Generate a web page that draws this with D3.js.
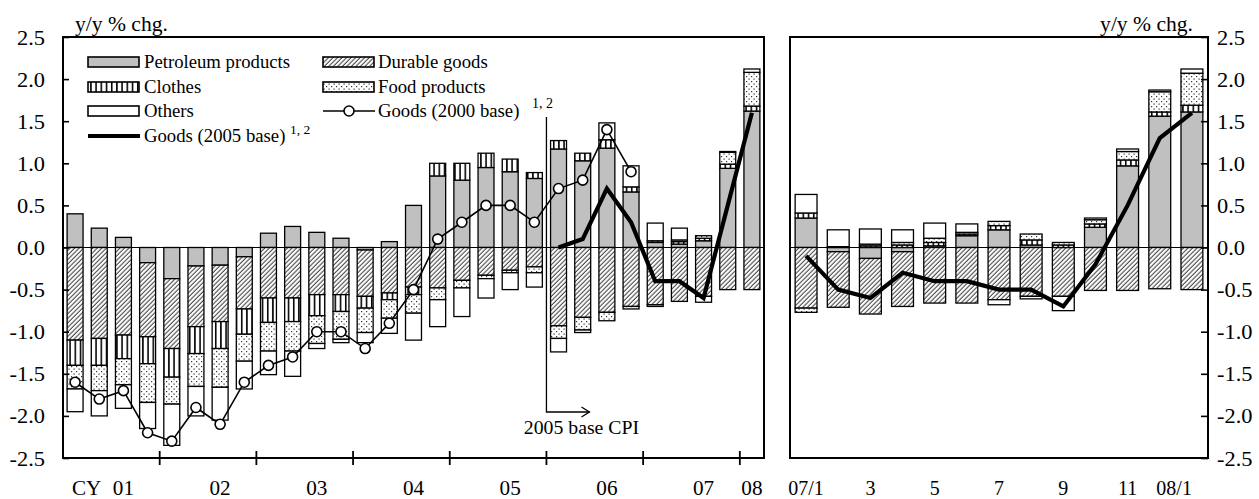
<!DOCTYPE html>
<html><head><meta charset="utf-8">
<script src="https://cdn.jsdelivr.net/npm/d3@7"></script>
<style>body{margin:0;background:#fff}svg text{font-family:"Liberation Serif","Times New Roman",serif;fill:#000}</style>
</head><body><svg id="c" width="1259" height="499"></svg>
<script>
// ---------- DATA: quarterly (left panel) ----------
const quarters = ["01Q1","01Q2","01Q3","01Q4","02Q1","02Q2","02Q3","02Q4","03Q1","03Q2","03Q3","03Q4",
  "04Q1","04Q2","04Q3","04Q4","05Q1","05Q2","05Q3","05Q4","06Q1","06Q2","06Q3","06Q4","07Q1","07Q2","07Q3","07Q4","08Q1"];
const petroQ   = [0.40,0.23,0.12,-0.18,-0.37,-0.22,-0.21,-0.11,0.17,0.25,0.18,0.11,-0.03,0.07,0.50,0.85,0.80,0.95,0.90,0.82,1.17,1.03,1.18,0.66,0.06,0.04,0.08,0.94,1.62];
const durableQ = [-1.10,-1.08,-1.04,-0.88,-0.83,-0.72,-0.67,-0.62,-0.60,-0.60,-0.56,-0.56,-0.55,-0.54,-0.47,-0.48,-0.39,-0.33,-0.27,-0.23,-0.93,-0.83,-0.77,-0.70,-0.68,-0.64,-0.58,-0.50,-0.50];
const clothesQ = [-0.30,-0.32,-0.28,-0.32,-0.34,-0.32,-0.32,-0.30,-0.29,-0.28,-0.25,-0.20,-0.14,-0.08,-0.09,0.15,0.20,0.17,0.15,0.07,0.10,0.09,0.10,0.06,0.02,0.03,0.03,0.05,0.06];
const foodQ    = [-0.28,-0.30,-0.31,-0.46,-0.32,-0.39,-0.46,-0.32,-0.34,-0.35,-0.33,-0.33,-0.29,-0.22,-0.22,-0.14,-0.09,-0.04,-0.03,-0.07,-0.15,-0.15,-0.10,-0.03,-0.02,0.02,0.03,0.14,0.40];
const othersQ  = [-0.27,-0.30,-0.28,-0.31,-0.49,-0.35,-0.39,-0.33,-0.28,-0.30,-0.06,-0.04,-0.12,-0.18,-0.32,-0.32,-0.34,-0.23,-0.20,-0.17,-0.16,-0.03,0.20,0.25,0.21,0.14,-0.07,0.01,0.04];
const goods2000Q = [-1.6,-1.8,-1.7,-2.2,-2.3,-1.9,-2.1,-1.6,-1.4,-1.3,-1.0,-1.0,-1.2,-0.9,-0.5,0.1,0.3,0.5,0.5,0.3,0.7,0.8,1.4,0.9,null,null,null,null,null];
const goods2005Q = [null,null,null,null,null,null,null,null,null,null,null,null,null,null,null,null,null,null,null,null,0.0,0.1,0.7,0.3,-0.4,-0.4,-0.6,0.5,1.6];
const yearLabels = ["01","02","03","04","05","06","07","08"];

// ---------- DATA: monthly (right panel) ----------
const months = ["07/1","07/2","07/3","07/4","07/5","07/6","07/7","07/8","07/9","07/10","07/11","07/12","08/1"];
const monthLabels = ["07/1","","3","","5","","7","","9","","11","","08/1"];
const petroM   = [0.35,-0.05,-0.13,-0.05,0.02,0.14,0.21,0.03,0.00,0.24,0.97,1.56,1.61];
const durableM = [-0.72,-0.66,-0.66,-0.65,-0.66,-0.66,-0.62,-0.58,-0.58,-0.51,-0.51,-0.49,-0.50];
const clothesM = [0.06,0.01,0.02,0.03,0.04,0.02,0.05,0.06,0.03,0.04,0.07,0.05,0.08];
const foodM    = [-0.05,0.00,0.02,0.03,0.05,0.02,0.05,0.07,0.03,0.05,0.10,0.24,0.38];
const othersM  = [0.22,0.20,0.18,0.15,0.18,0.10,-0.06,-0.03,-0.17,0.02,0.03,0.02,0.05];
const goods2005M = [-0.1,-0.5,-0.6,-0.3,-0.4,-0.4,-0.5,-0.5,-0.7,-0.2,0.5,1.3,1.6];

const yTicks = [2.5,2.0,1.5,1.0,0.5,0.0,-0.5,-1.0,-1.5,-2.0,-2.5];
const keys = ["petro","durable","clothes","food","others"];
const legendNames = {petro:"Petroleum products",durable:"Durable goods",clothes:"Clothes",food:"Food products",others:"Others"};

// ---------- SETUP ----------
const svg = d3.select("#c");
const fmt = d3.formatLocale({decimal:".",thousands:",",grouping:[3],currency:["",""],minus:"-"}).format(".1f");
// horizontal text stretch around each text's own x anchor
function stretch(sel, sx){
  sel.each(function(){ const t = d3.select(this); const x = +t.attr("x") || 0;
    t.attr("x", x/sx).attr("transform", `scale(${sx},1)`); });
}
const defs = svg.append("defs");
const hs = 3.2;
const hatch = defs.append("pattern").attr("id","hatch").attr("patternUnits","userSpaceOnUse")
  .attr("width",hs).attr("height",hs).attr("patternTransform","rotate(45)");
hatch.append("rect").attr("width",hs).attr("height",hs).attr("fill","#fff");
hatch.append("line").attr("x1",1).attr("x2",1).attr("y1",0).attr("y2",hs).attr("stroke","#222").attr("stroke-width",0.9);
const stripe = defs.append("pattern").attr("id","stripe").attr("patternUnits","userSpaceOnUse").attr("width",5.2).attr("height",10);
stripe.append("rect").attr("width",5.2).attr("height",10).attr("fill","#fff");
stripe.append("line").attr("x1",2.5).attr("x2",2.5).attr("y1",0).attr("y2",10).attr("stroke","#000").attr("stroke-width",1.6);
const dots = defs.append("pattern").attr("id","dots").attr("patternUnits","userSpaceOnUse").attr("width",5).attr("height",5);
dots.append("rect").attr("width",5).attr("height",5).attr("fill","#fff");
dots.append("rect").attr("x",1).attr("y",1).attr("width",1.2).attr("height",1.2).attr("fill","#333");
dots.append("rect").attr("x",3.5).attr("y",3.5).attr("width",1.2).attr("height",1.2).attr("fill","#333");
const fills = {petro:"#c0c0c0",durable:"url(#hatch)",clothes:"url(#stripe)",food:"url(#dots)",others:"#fff"};

const yTop = 37, yBot = 458;
const y = d3.scaleLinear().domain([-2.5,2.5]).range([yBot, yTop]);
const L = {x0:63, x1:764}, R = {x0:790, x1:1208};
const xL = d3.scaleBand().domain(quarters).range([L.x0, L.x1]).paddingInner(0.34).paddingOuter(0.17);
const xR = d3.scaleBand().domain(months).range([R.x0, R.x1]).paddingInner(0.32).paddingOuter(0.16);

function rows(cats, p, d, c, f, o){ return cats.map((k,i)=>({cat:k,petro:p[i],durable:d[i],clothes:c[i],food:f[i],others:o[i]})); }
const stack = d3.stack().keys(keys).offset(d3.stackOffsetDiverging);

function drawBars(g, x, data){
  const series = stack(data);
  series.forEach(s=>{
    g.append("g").selectAll("rect").data(s.filter(d=>Math.abs(d[1]-d[0])>1e-9)).join("rect")
      .attr("x", d=>x(d.data.cat)).attr("width", x.bandwidth())
      .attr("y", d=>y(Math.max(d[0],d[1]))).attr("height", d=>Math.abs(y(d[0])-y(d[1])))
      .attr("fill", fills[s.key]).attr("stroke","#000").attr("stroke-width",1.3);
  });
}

// ---------- LEFT PANEL ----------
const gl = svg.append("g");
drawBars(gl, xL, rows(quarters, petroQ, durableQ, clothesQ, foodQ, othersQ));
gl.append("line").attr("x1",L.x0).attr("x2",L.x1).attr("y1",y(0)).attr("y2",y(0)).attr("stroke","#000").attr("stroke-width",1);
const cxL = c => xL(c) + xL.bandwidth()/2;
const line2000 = d3.line().defined(d=>d.v!==null).x(d=>cxL(d.c)).y(d=>y(d.v));
const d2000 = quarters.map((c,i)=>({c, v:goods2000Q[i]}));
gl.append("path").attr("d", line2000(d2000)).attr("fill","none").attr("stroke","#000").attr("stroke-width",1.6);
gl.append("g").selectAll("circle").data(d2000.filter(d=>d.v!==null)).join("circle")
  .attr("cx", d=>cxL(d.c)).attr("cy", d=>y(d.v)).attr("r",5).attr("fill","#fff").attr("stroke","#000").attr("stroke-width",1.6);
const d2005 = quarters.map((c,i)=>({c, v:goods2005Q[i]}));
gl.append("path").attr("d", line2000(d2005)).attr("fill","none").attr("stroke","#000").attr("stroke-width",4.2).attr("stroke-linejoin","miter");
gl.append("rect").attr("x",L.x0).attr("y",yTop).attr("width",L.x1-L.x0).attr("height",yBot-yTop).attr("fill","none").attr("stroke","#000").attr("stroke-width",2);

// left y axis
const axL = svg.append("g").attr("transform",`translate(${L.x0},0)`)
  .call(d3.axisLeft(y).tickValues(yTicks).tickFormat(fmt).tickSizeInner(-6).tickSizeOuter(0).tickPadding(18));
axL.select(".domain").remove();
axL.selectAll("line").attr("stroke","#000").attr("stroke-width",1.6);
axL.selectAll("text").attr("font-family","Liberation Serif").attr("font-size",20).attr("dy","0.35em");
stretch(axL.selectAll("text"), 1.12);

// year boundary ticks + labels
const step = xL.step();
const yearStart = quarters.filter((q,i)=>i>0 && q.endsWith("Q1"));
gl.append("g").selectAll("line").data(yearStart).join("line")
  .attr("x1", q=>xL(q) - step*xL.paddingInner()/2).attr("x2", q=>xL(q) - step*xL.paddingInner()/2)
  .attr("y1", yBot-7).attr("y2", yBot+7).attr("stroke","#000").attr("stroke-width",1.8);
const yl = gl.append("g").selectAll("text").data(yearLabels).join("text")
  .attr("x", d=>{ const q3 = quarters.find(q=>q===d+"Q3") || quarters.filter(q=>q.startsWith(d)).pop(); return cxL(q3); })
  .attr("y", 495).attr("text-anchor","middle").attr("font-size",20).text(d=>d);
stretch(yl, 1.06);
stretch(svg.append("text").attr("x",72).attr("y",495).attr("font-size",20).text("CY"), 1.06);
stretch(svg.append("text").attr("x",75).attr("y",31).attr("font-size",20).text("y/y % chg."), 1.08);

// base change marker
const bx = xL("06Q1") - step*xL.paddingInner()/2;
svg.append("path").attr("d",`M${bx},117V412H${bx+43}`).attr("fill","none").attr("stroke","#000").attr("stroke-width",1.3);
svg.append("path").attr("d",`M${bx+35},407L${bx+43},412L${bx+35},417`).attr("fill","none").attr("stroke","#000").attr("stroke-width",1.3);
svg.append("text").attr("x",bx-4).attr("y",108).attr("text-anchor","middle").attr("font-size",14).text("1, 2");
stretch(svg.append("text").attr("x",bx+35).attr("y",434).attr("text-anchor","middle").attr("font-size",19).text("2005 base CPI"), 1.04);

// legend
const rowsY = [62,87,111,136];
const legCol1 = ["petro","clothes","others"], legCol2 = ["durable","food"];
legCol1.forEach((k,i)=>{
  svg.append("rect").attr("x",88).attr("y",rowsY[i]-5).attr("width",51).attr("height",10).attr("fill",fills[k]).attr("stroke","#000").attr("stroke-width",1.6);
  stretch(svg.append("text").attr("x",144).attr("y",rowsY[i]+6).attr("font-size",18).text(legendNames[k]), 1.04);
});
legCol2.forEach((k,i)=>{
  svg.append("rect").attr("x",323).attr("y",rowsY[i]-5).attr("width",51).attr("height",10).attr("fill",fills[k]).attr("stroke","#000").attr("stroke-width",1.6);
  stretch(svg.append("text").attr("x",378).attr("y",rowsY[i]+6).attr("font-size",18).text(legendNames[k]), 1.04);
});
svg.append("line").attr("x1",323).attr("x2",375).attr("y1",rowsY[2]).attr("y2",rowsY[2]).attr("stroke","#000").attr("stroke-width",1.6);
svg.append("circle").attr("cx",349).attr("cy",rowsY[2]).attr("r",5).attr("fill","#fff").attr("stroke","#000").attr("stroke-width",1.6);
stretch(svg.append("text").attr("x",378).attr("y",rowsY[2]+6).attr("font-size",18).text("Goods (2000 base)"), 1.04);
svg.append("line").attr("x1",88).attr("x2",140).attr("y1",rowsY[3]).attr("y2",rowsY[3]).attr("stroke","#000").attr("stroke-width",4.2);
const t5 = svg.append("text").attr("x",144).attr("y",rowsY[3]+6).attr("font-size",18);
t5.append("tspan").text("Goods (2005 base) ");
t5.append("tspan").attr("font-size",13).attr("dy",-8).text("1, 2");
stretch(t5, 1.04);

// ---------- RIGHT PANEL ----------
const gr = svg.append("g");
drawBars(gr, xR, rows(months, petroM, durableM, clothesM, foodM, othersM));
gr.append("line").attr("x1",R.x0).attr("x2",R.x1).attr("y1",y(0)).attr("y2",y(0)).attr("stroke","#000").attr("stroke-width",1);
const cxR = c => xR(c) + xR.bandwidth()/2;
gr.append("path").attr("d", d3.line().x(d=>cxR(d.c)).y(d=>y(d.v))(months.map((c,i)=>({c,v:goods2005M[i]}))))
  .attr("fill","none").attr("stroke","#000").attr("stroke-width",4.2);
gr.append("rect").attr("x",R.x0).attr("y",yTop).attr("width",R.x1-R.x0).attr("height",yBot-yTop).attr("fill","none").attr("stroke","#000").attr("stroke-width",2);
const axR = svg.append("g").attr("transform",`translate(${R.x1},0)`)
  .call(d3.axisRight(y).tickValues(yTicks).tickFormat(fmt).tickSizeInner(-7).tickSizeOuter(0).tickPadding(9));
axR.select(".domain").remove();
axR.selectAll("line").attr("stroke","#000").attr("stroke-width",1.6);
axR.selectAll("text").attr("font-family","Liberation Serif").attr("font-size",20).attr("dy","0.35em");
stretch(axR.selectAll("text"), 1.12);
const ml = gr.append("g").selectAll("text").data(months.map((m,i)=>({m,l:monthLabels[i],i}))).join("text")
  .attr("x", d=>cxR(d.m)).attr("y",495).attr("font-size",20)
  .attr("text-anchor", d=>d.i===months.length-1 ? "end" : "middle").text(d=>d.l);
stretch(svg.append("text").attr("x",1193).attr("y",31).attr("text-anchor","end").attr("font-size",20).text("y/y % chg."), 1.08);
</script></body></html>
